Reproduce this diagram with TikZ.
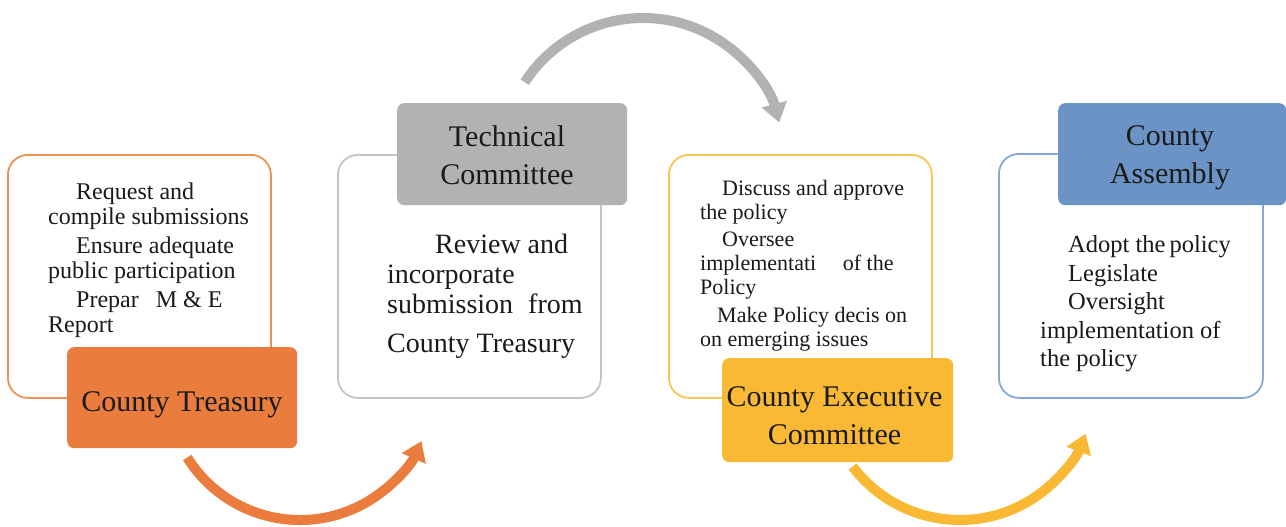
\documentclass[tikz,border=0pt]{standalone}
\usepackage{fontspec}
\setmainfont{Liberation Serif}
\usetikzlibrary{arrows.meta,calc}
\definecolor{orF}{HTML}{EA7D3E}
\definecolor{orO}{HTML}{EE9058}
\definecolor{grF}{HTML}{B2B2B2}
\definecolor{grO}{HTML}{C4C4C4}
\definecolor{ylF}{HTML}{F9B934}
\definecolor{ylO}{HTML}{F9C453}
\definecolor{blF}{HTML}{6B93C5}
\definecolor{blO}{HTML}{86A8D6}
\definecolor{txtc}{HTML}{1A1A1A}
\begin{document}
\begin{tikzpicture}[x=1pt,y=-1pt,
  outbox/.style={draw, line width=1.8pt, fill=white, rounded corners=20pt, anchor=north west, inner sep=0pt},
  labbox/.style={rounded corners=7pt, anchor=north west, inner sep=0pt},
  txt/.style={align=left, inner sep=0pt, anchor=north west, text=txtc},
  labtxt/.style={align=center, inner sep=0pt, text=txtc, font=\fontsize{30}{38}\selectfont},
  flow/.style={line width=10pt, -{Triangle[width=25pt,length=19pt]}}]
\useasboundingbox (0,0) rectangle (1286,527);
\fill[white] (0,0) rectangle (1286,527);
% outline boxes
\node[outbox, draw=orO, minimum width=263pt, minimum height=243pt] (b1) at (7,154) {};
\node[outbox, draw=grO, minimum width=263pt, minimum height=243pt] (b2) at (337,154) {};
\node[outbox, draw=ylO, minimum width=263pt, minimum height=243pt] (b3) at (668,154) {};
\node[outbox, draw=blO, minimum width=264pt, minimum height=244pt] (b4) at (998,153) {};
% label boxes
\node[labbox, fill=orF, minimum width=230pt, minimum height=101pt] (l1) at (67,347) {};
\node[labbox, fill=grF, minimum width=230pt, minimum height=102pt] (l2) at (397,103) {};
\node[labbox, fill=ylF, minimum width=231pt, minimum height=104pt] (l3) at (722,358) {};
\node[labbox, fill=blF, minimum width=228pt, minimum height=102pt] (l4) at (1058,103) {};
% label texts
\node[labtxt] (n1) at (182,405) {County Treasury};
\node[labtxt] (n2) at (507,155) {Technical\\Committee};
\node[labtxt] (n3) at (834.5,415.5) {County Executive\\Committee};
\node[labtxt] (n4) at (1170,158) {County\\Assembly};
% body texts
\node[txt, font=\fontsize{24}{25}\selectfont] (t1) at (48,183)
  {\hspace*{28pt}Request and\\compile submissions\\[4pt]\hspace*{28pt}Ensure adequate\\public participation\\[4pt]\hspace*{28pt}Prepar\hspace{11pt} M \& E\\Report};
\node[txt, font=\fontsize{28}{30}\selectfont] (t2) at (387,234)
  {\hspace*{48pt}Review and\\incorporate\\submission\hspace{8pt} from\\[9pt]County Treasury};
\node[txt, font=\fontsize{22}{24}\selectfont] (t3) at (700,180.5)
  {\hspace*{22pt}Discuss and approve\\the policy\\[3pt]\hspace*{22pt}Oversee\\implementati\hspace{21pt} of the\\Policy\\[4pt]\hspace*{17pt}Make Policy decis on\\on emerging issues};
\node[txt, font=\fontsize{24.5}{28.5}\selectfont] (t4) at (1040,235.5)
  {\hspace*{28pt}Adopt the\,policy\\\hspace*{28pt}Legislate\\\hspace*{28pt}Oversight\\implementation of\\the policy};
% curved arrows
\coordinate (a1s) at ($(300,387)+(148:133)$);
\coordinate (a2s) at ($(643,159)+(-147:141)$);
\coordinate (a3s) at ($(960,385.5)+(143:134.5)$);
\draw[flow, draw=orF] (a1s) arc[start angle=148, end angle=24, radius=133];
\draw[flow, draw=grF] (a2s) arc[start angle=-147, end angle=-15, radius=141];
\draw[flow, draw=ylF] (a3s) arc[start angle=143, end angle=21, radius=134.5];
\end{tikzpicture}
\end{document}
